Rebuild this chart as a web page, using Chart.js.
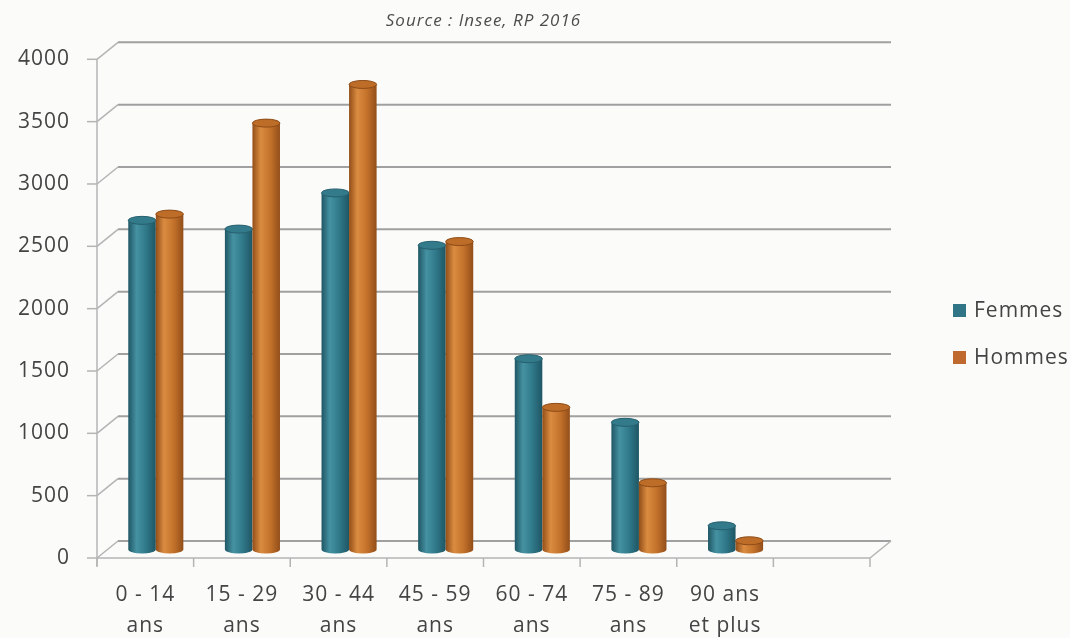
<!DOCTYPE html>
<html>
<head>
<meta charset="utf-8">
<title>Population par tranche d'âge et sexe</title>
<script src="https://cdn.jsdelivr.net/npm/chart.js@4.4.0/dist/chart.umd.min.js"></script>
<style>
  body { margin: 0; background: #fbfbf9; }
  #wrap { width: 1070px; height: 638px; }
</style>
</head>
<body>
<div id="wrap"><canvas id="myChart" width="1070" height="638"></canvas></div>
<script>
// tranches d'âge (the last slot is left empty on the axis)
const ageLabels = [
    ['0 - 14', 'ans'], ['15 - 29', 'ans'], ['30 - 44', 'ans'], ['45 - 59', 'ans'],
    ['60 - 74', 'ans'], ['75 - 89', 'ans'], ['90 ans', 'et plus'], ''
];
const femmes = [2640, 2570, 2860, 2440, 1530, 1020, 190, null];
const hommes = [2690, 3420, 3730, 2470, 1140, 535, 70, null];
const yTicks = [0, 500, 1000, 1500, 2000, 2500, 3000, 3500, 4000];

// depth of the fake 3d box (back wall offset)
const DX = 21, DY = -17;

const barColors = [
    {solid: '#2f7585', edge: '#1f5664', light: '#4592a2', mid: '#2f7889', cap: '#337b8b', rim: '#265f6d'},
    {solid: '#c0692f', edge: '#924e19', light: '#da8c40', mid: '#c4722b', cap: '#bd6d28', rim: '#8e4b17'}
];

const line = function(ctx, x1, y1, x2, y2) {
    ctx.beginPath();
    ctx.moveTo(x1, y1);
    ctx.lineTo(x2, y2);
    ctx.stroke();
}

const cylinder = function(ctx, cx, top, bottom, w, c) {
    const rx = w / 2, ry = 4;
    const g = ctx.createLinearGradient(cx - rx, 0, cx + rx, 0);
    g.addColorStop(0, c.edge);
    g.addColorStop(0.3, c.light);
    g.addColorStop(0.65, c.mid);
    g.addColorStop(1, c.edge);
    ctx.fillStyle = g;
    ctx.beginPath();
    ctx.moveTo(cx - rx, top);
    ctx.lineTo(cx - rx, bottom);
    ctx.ellipse(cx, bottom, rx, ry, 0, Math.PI, 0, true);
    ctx.lineTo(cx + rx, top);
    ctx.closePath();
    ctx.fill();
    // top cap
    ctx.beginPath();
    ctx.ellipse(cx, top, rx, ry, 0, 0, Math.PI * 2);
    ctx.fillStyle = c.cap;
    ctx.fill();
    ctx.strokeStyle = c.rim;
    ctx.lineWidth = 1;
    ctx.stroke();
}

const box3d = {
    id: 'box3d',
    beforeDraw(chart) {
        chart.ctx.letterSpacing = '1px';
    },
    beforeDatasetsDraw(chart) {
        const ctx = chart.ctx;
        const yScale = chart.scales.y, xScale = chart.scales.x;
        const {left, right, top, bottom} = chart.chartArea;
        ctx.save();

        // back wall gridlines + left side diagonals + tick marks
        yTicks.forEach(function(v) {
            const py = yScale.getPixelForValue(v);
            ctx.strokeStyle = '#a0a0a0';
            ctx.lineWidth = 2;
            line(ctx, left + DX, py + DY, right + DX, py + DY);
            ctx.strokeStyle = '#b4b4b4';
            ctx.lineWidth = 1.5;
            line(ctx, left, py, left + DX, py + DY);
            line(ctx, left - 10, py, left, py);
        });

        // front axis and floor
        ctx.strokeStyle = '#b4b4b4';
        ctx.lineWidth = 1.5;
        line(ctx, left, top, left, bottom + 8);
        line(ctx, left, bottom, right, bottom);
        line(ctx, right, bottom, right + DX, bottom + DY);
        for (let i = 0; i <= ageLabels.length; i++) {
            const px = xScale.getPixelForValue(i - 0.5);
            line(ctx, px, bottom, px, bottom + 9);
        }

        // cylinders sit halfway into the box
        const n = chart.data.labels.length;
        for (let i = 0; i < n; i++) {
            chart.data.datasets.forEach(function(ds, d) {
                if (ds.data[i] === null) return;
                const bar = chart.getDatasetMeta(d).data[i];
                cylinder(ctx, bar.x + DX / 2, bar.y + DY / 2, bar.base + DY / 2, bar.width, barColors[d]);
            });
        }
        ctx.restore();
        return false;
    },
    afterDraw(chart) {
        // legend on the right
        const ctx = chart.ctx;
        const lx = chart.chartArea.right + 83;
        ctx.save();
        ctx.font = '21px "Open Sans"';
        ctx.textBaseline = 'middle';
        chart.data.datasets.forEach(function(ds, i) {
            const ly = 311 + i * 47;
            ctx.fillStyle = ds.backgroundColor;
            ctx.fillRect(lx, ly - 7, 13, 13);
            ctx.fillStyle = '#444';
            ctx.fillText(ds.label, lx + 21, ly);
        });
        ctx.restore();
    }
};

Chart.defaults.font.family = '"Open Sans", sans-serif';

var ctx = document.getElementById('myChart').getContext('2d');
var chart = new Chart(ctx, {
    type: 'bar',
    data: {
        labels: ageLabels,
        datasets: [{
            label: 'Femmes',
            backgroundColor: barColors[0].solid,
            data: femmes
        }, {
            label: 'Hommes',
            backgroundColor: barColors[1].solid,
            data: hommes
        }]
    },
    options: {
        responsive: false,
        animation: false,
        devicePixelRatio: 1,
        layout: {padding: {left: 0, right: 200, top: 0, bottom: 0}},
        datasets: {bar: {categoryPercentage: 0.57, barPercentage: 1.0}},
        plugins: {
            legend: {display: false},
            tooltip: {enabled: false},
            title: {
                display: true,
                fullSize: false,
                text: 'Source : Insee, RP 2016',
                color: '#4d4d4d',
                font: {size: 17, style: 'italic', weight: 'normal'},
                padding: {top: 11, bottom: 27.9}
            }
        },
        scales: {
            x: {
                grid: {display: false, drawTicks: false},
                border: {display: false},
                ticks: {
                    autoSkip: false, maxRotation: 0, padding: 21,
                    color: '#444', font: {size: 21, lineHeight: 1.5}
                },
                afterFit: function(scale) { scale.height = 80; }
            },
            y: {
                min: 0, max: 4000,
                grid: {display: false, drawTicks: false},
                border: {display: false},
                ticks: {
                    stepSize: 500, padding: 27, color: '#444', font: {size: 21},
                    callback: function(value) { return String(value); }
                },
                afterFit: function(scale) { scale.width = 97; }
            }
        }
    },
    plugins: [box3d]
});
</script>
</body>
</html>
